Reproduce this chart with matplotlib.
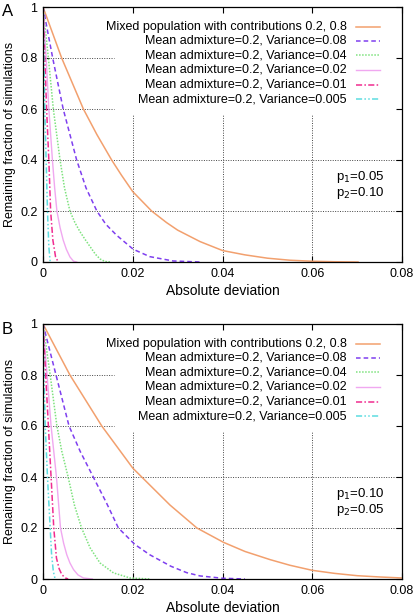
import matplotlib
matplotlib.use("Agg")
import matplotlib.pyplot as plt
from matplotlib.lines import Line2D

plt.rcParams['font.family'] = ['Liberation Sans', 'DejaVu Sans']

labels = ["Mixed population with contributions 0.2, 0.8",
          "Mean admixture=0.2, Variance=0.08",
          "Mean admixture=0.2, Variance=0.04",
          "Mean admixture=0.2, Variance=0.02",
          "Mean admixture=0.2, Variance=0.01",
          "Mean admixture=0.2, Variance=0.005"]

x_ticks = [0, 0.02, 0.04, 0.06, 0.08]
x_ticklabels = ["0", "0.02", "0.04", "0.06", "0.08"]
y_ticks = [0, 0.2, 0.4, 0.6, 0.8, 1]
y_ticklabels = ["0", "0.2", "0.4", "0.6", "0.8", "1"]

# Panel A (p1=0.05, p2=0.10)
a_mixed_x = [0, 0.00416, 0.009, 0.012, 0.0153, 0.0175, 0.02, 0.0242, 0.0275, 0.03, 0.035, 0.04, 0.045, 0.05, 0.055, 0.06, 0.065, 0.0702]
a_mixed_y = [1, 0.8, 0.6, 0.5, 0.4, 0.34, 0.276, 0.2, 0.155, 0.125, 0.08, 0.045, 0.028, 0.015, 0.007, 0.003, 0.001, 0.0]
a_v08_x = [0, 0.00216, 0.0045, 0.0075, 0.0096, 0.012, 0.014, 0.0164, 0.0201, 0.0238, 0.029, 0.035]
a_v08_y = [1, 0.8, 0.6, 0.4, 0.29, 0.2, 0.148, 0.105, 0.05, 0.021, 0.004, 0.0]
a_v04_x = [0, 0.0012, 0.0023, 0.0038, 0.0048, 0.006, 0.0071, 0.0082, 0.0094, 0.0105, 0.0117, 0.0127, 0.0138, 0.015]
a_v04_y = [1, 0.8, 0.6, 0.4, 0.29, 0.2, 0.155, 0.12, 0.088, 0.06, 0.03, 0.012, 0.002, 0.0]
a_v02_x = [0, 0.0007, 0.0013, 0.0021, 0.0026, 0.0031, 0.0038, 0.0045, 0.0052, 0.006, 0.0068, 0.0075]
a_v02_y = [1, 0.8, 0.6, 0.4, 0.29, 0.2, 0.135, 0.086, 0.05, 0.02, 0.003, 0.0]
a_v01_x = [0, 0.0004, 0.0008, 0.0013, 0.0017, 0.0022, 0.0028, 0.0034]
a_v01_y = [1, 0.8, 0.6, 0.4, 0.2, 0.086, 0.02, 0.0]
a_v005_x = [0, 0.0002, 0.0004, 0.0007, 0.001, 0.0013, 0.0016]
a_v005_y = [1, 0.8, 0.6, 0.4, 0.2, 0.06, 0.0]

# Panel B (p1=0.10, p2=0.05)
b_mixed_x = [0, 0.006, 0.0131, 0.02, 0.022, 0.0283, 0.0343, 0.0402, 0.045, 0.0506, 0.055, 0.06, 0.065, 0.07, 0.075, 0.08]
b_mixed_y = [1, 0.8, 0.6, 0.435, 0.4, 0.29, 0.2, 0.144, 0.108, 0.076, 0.054, 0.034, 0.022, 0.013, 0.008, 0.004]
b_v08_x = [0, 0.0029, 0.0058, 0.0083, 0.0112, 0.0141, 0.0168, 0.0205, 0.0238, 0.0285, 0.032, 0.035, 0.04, 0.045]
b_v08_y = [1, 0.8, 0.6, 0.5, 0.4, 0.3, 0.2, 0.135, 0.095, 0.05, 0.025, 0.012, 0.003, 0.0]
b_v04_x = [0, 0.0016, 0.0031, 0.0042, 0.0056, 0.007, 0.0086, 0.0105, 0.0127, 0.0157, 0.0194, 0.024]
b_v04_y = [1, 0.8, 0.6, 0.5, 0.4, 0.29, 0.2, 0.122, 0.063, 0.024, 0.004, 0.0]
b_v02_x = [0, 0.0009, 0.0018, 0.003, 0.0039, 0.0046, 0.0053, 0.006, 0.0068, 0.0078, 0.009, 0.011]
b_v02_y = [1, 0.8, 0.6, 0.4, 0.2, 0.14, 0.095, 0.063, 0.037, 0.016, 0.004, 0.0]
b_v01_x = [0, 0.0006, 0.0012, 0.0018, 0.0024, 0.003, 0.0036, 0.0042, 0.005, 0.0056]
b_v01_y = [1, 0.8, 0.6, 0.4, 0.2, 0.082, 0.04, 0.017, 0.004, 0.0]
b_v005_x = [0, 0.0002, 0.0005, 0.001, 0.0016, 0.0019, 0.0023, 0.0027]
b_v005_y = [1, 0.8, 0.6, 0.4, 0.2, 0.1, 0.03, 0.0]

colors = ["#F2A06E", "#7F3FEF", "#7EE27E", "#F0A8F0", "#F02C90", "#5CDCE0"]
styles = ["-", (0, (3, 2)), (0, (1, 1)), "-", (0, (4, 1.5, 1, 1.5)), (0, (4, 1.5, 1, 1.5, 1, 1.5))]
widths = [1.1, 1.1, 1.1, 1.0, 1.1, 1.1]

panels = [
    ("A", [(a_mixed_x, a_mixed_y), (a_v08_x, a_v08_y), (a_v04_x, a_v04_y),
           (a_v02_x, a_v02_y), (a_v01_x, a_v01_y), (a_v005_x, a_v005_y)],
     "p$_1$=0.05", "p$_2$=0.10"),
    ("B", [(b_mixed_x, b_mixed_y), (b_v08_x, b_v08_y), (b_v04_x, b_v04_y),
           (b_v02_x, b_v02_y), (b_v01_x, b_v01_y), (b_v005_x, b_v005_y)],
     "p$_1$=0.10", "p$_2$=0.05"),
]

W, H = 415, 616
fig = plt.figure(figsize=(W / 100, H / 100), dpi=100)

# axes pixel boxes: left, top, right, bottom
boxes = [(43, 7, 402, 262), (43, 324, 402, 579)]

for (letter, series, p1, p2), (l, t, r, b) in zip(panels, boxes):
    ax = fig.add_axes([l / W, 1 - b / H, (r - l) / W, (b - t) / H])
    ax.set_xlim(0, 0.08)
    ax.set_ylim(0, 1)
    ax.set_xticks(x_ticks)
    ax.set_xticklabels(x_ticklabels)
    ax.set_yticks(y_ticks)
    ax.set_yticklabels(y_ticklabels)
    ax.tick_params(direction="in", length=4, width=0.8, top=True, right=True,
                   labelsize=9, pad=4, colors="black")
    for s in ax.spines.values():
        s.set_linewidth(0.9)
        s.set_zorder(5)

    # grid (blanked behind the key area)
    key_x0, key_y0 = 0.198, 0.576
    gkw = dict(color="#444444", lw=0.7, ls=(0, (1, 1.5)), zorder=0.5)
    for xv in x_ticks[1:-1]:
        ax.axvline(xv, 0, key_y0, **gkw)
    for yv in y_ticks[1:-1]:
        if yv < key_y0:
            ax.axhline(yv, 0, 1, **gkw)
        else:
            ax.axhline(yv, 0, key_x0, **gkw)

    for (xs, ys), c, st, lw in zip(series, colors, styles, widths):
        ax.plot(xs, ys, color=c, ls=st, lw=lw, zorder=2, clip_on=True)

    # key
    row_y = [0.923, 0.867, 0.810, 0.753, 0.696, 0.639]
    for lab, yy, c, st, lw in zip(labels, row_y, colors, styles, widths):
        ax.text(0.846, yy, lab, transform=ax.transAxes, ha="right", va="center",
                fontsize=9, zorder=6)
        ax.add_line(Line2D([0.872, 0.94], [yy, yy], transform=ax.transAxes,
                           color=c, ls=st, lw=lw, zorder=6))

    ax.text(0.816, 0.335, p1, transform=ax.transAxes, ha="left", va="center", fontsize=9.5)
    ax.text(0.816, 0.270, p2, transform=ax.transAxes, ha="left", va="center", fontsize=9.5)

    ax.set_xlabel("Absolute deviation", fontsize=10, labelpad=3)
    ax.set_ylabel("Remaining fraction of simulations", fontsize=9, labelpad=3)
    fig.text(2 / W, 1 - (t + 5) / H, letter, fontsize=12, ha="left", va="center")

fig.savefig("out.png", dpi=100)
